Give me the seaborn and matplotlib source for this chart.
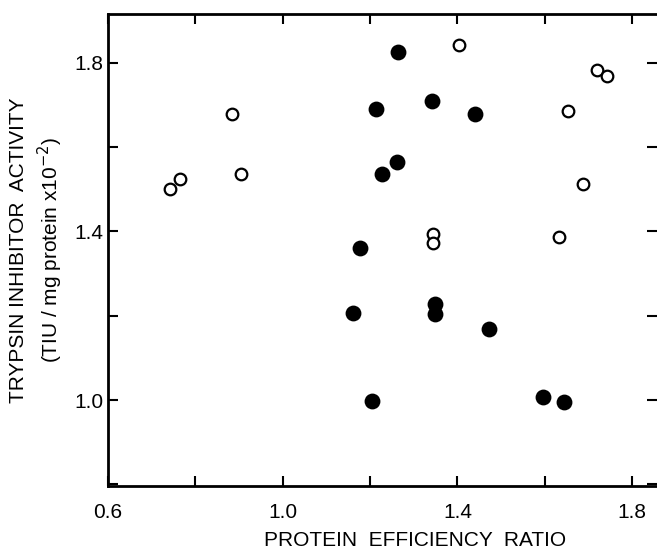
import pandas as pd
import numpy as np
import matplotlib.pyplot as plt
import seaborn as sns

# Valeurs
open_per = [0.742, 0.765, 0.884, 0.904, 1.403, 1.719, 1.742, 1.653, 1.687, 1.344, 1.344, 1.632]
open_tia = [1.501, 1.525, 1.679, 1.537, 1.843, 1.782, 1.768, 1.687, 1.513, 1.394, 1.373, 1.387]

filled_per = [1.264, 1.213, 1.341, 1.440, 1.261, 1.228, 1.177, 1.161, 1.348, 1.348, 1.472, 1.204, 1.595, 1.643]
filled_tia = [1.827, 1.691, 1.710, 1.679, 1.566, 1.537, 1.361, 1.207, 1.228, 1.204, 1.168, 0.998, 1.007, 0.995]

x_ticks = [0.6, 0.8, 1.0, 1.2, 1.4, 1.6, 1.8]
x_labels = ['0.6', '', '1.0', '', '1.4', '', '1.8']
y_ticks = [0.8, 1.0, 1.2, 1.4, 1.6, 1.8]
y_labels = ['', '1.0', '', '1.4', '', '1.8']

df_open = pd.DataFrame({'per': open_per, 'tia': open_tia})
df_filled = pd.DataFrame({'per': filled_per, 'tia': filled_tia})

sns.set_style('ticks')
plt.rcParams['font.family'] = ['Liberation Sans', 'DejaVu Sans']
plt.rcParams['text.color'] = 'black'
plt.rcParams['xtick.color'] = 'black'
plt.rcParams['ytick.color'] = 'black'
plt.rcParams['axes.labelcolor'] = 'black'

fig = plt.figure(figsize=(6.57, 5.5), dpi=100)
ax = fig.add_axes([0.1644, 0.1164, 0.8356, 0.8581])

sns.scatterplot(data=df_open, x='per', y='tia', ax=ax, s=70, marker='o',
                facecolor='white', edgecolor='black', linewidth=1.6)
sns.scatterplot(data=df_filled, x='per', y='tia', ax=ax, s=130, marker='o',
                color='black', edgecolor='black', linewidth=0)

ax.set_xlim(0.6, 1.857)
ax.set_ylim(0.796, 1.916)
ax.set_xticks(x_ticks)
ax.set_xticklabels(x_labels)
ax.set_yticks(y_ticks)
ax.set_yticklabels(y_labels)

ax.tick_params(direction='in', length=7, width=1.5, labelsize=15,
               top=True, right=True)
ax.tick_params(axis='x', pad=12)
ax.tick_params(axis='y', pad=3)
for sp in ['left', 'bottom', 'top']:
    ax.spines[sp].set_linewidth(2)
    ax.spines[sp].set_color('black')
ax.spines['right'].set_visible(False)

ax.set_xlabel('PROTEIN  EFFICIENCY  RATIO', fontsize=15)
ax.xaxis.set_label_coords(0.56, -0.095)
ax.set_ylabel('TRYPSIN INHIBITOR  ACTIVITY\n(TIU / mg protein x10$^{-2}$)',
              fontsize=15, linespacing=1.35)
ax.yaxis.set_label_coords(-0.078, 0.5)

plt.savefig('out.png', dpi=100)
